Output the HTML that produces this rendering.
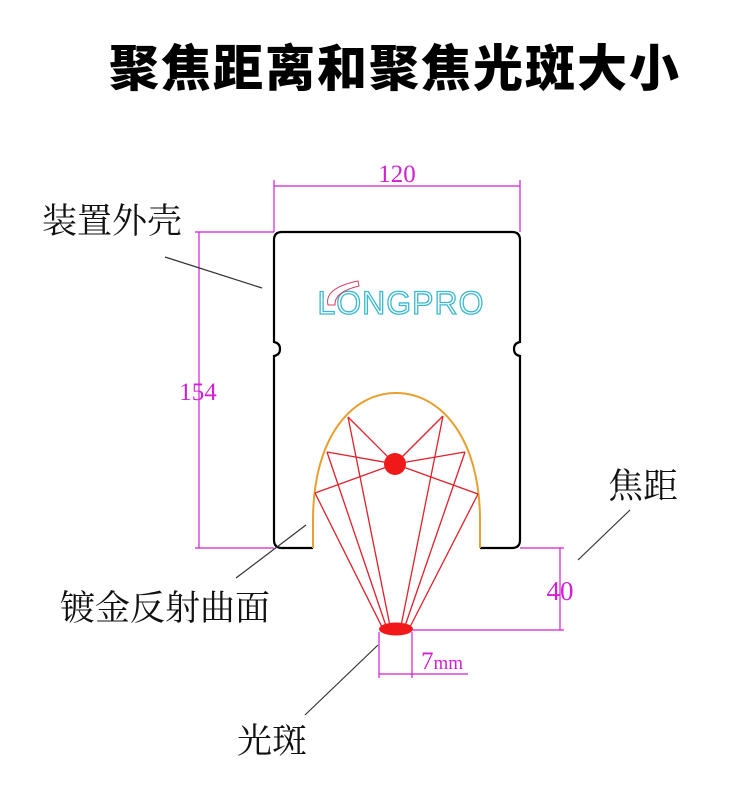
<!DOCTYPE html>
<html><head><meta charset="utf-8"><style>
body{margin:0;background:#fff;width:750px;height:807px;overflow:hidden}
svg{display:block}
.lab{font-family:"Liberation Serif","Noto Serif CJK SC",serif;font-size:35px;fill:#111}
.dim{font-family:"Liberation Serif",serif;fill:#d21fd2}
</style></head><body>
<svg width="750" height="807" viewBox="0 0 750 807">
<text x="395" y="86" text-anchor="middle" font-family="'Liberation Sans','Noto Sans CJK SC',sans-serif" font-weight="900" font-size="50" letter-spacing="2" fill="#000">聚焦距离和聚焦光斑大小</text>
<!-- housing -->
<path d="M313 548 H282 Q274 548 274 540 V356 Q280 355 280 349 Q280 343 274 342 V240 Q274 232 282 232 H512 Q520 232 520 240 V342 Q514 343 514 349 Q514 355 520 356 V540 Q520 548 512 548 H480" fill="none" stroke="#000" stroke-width="2.2"/>
<!-- reflector -->
<path d="M313 548 L313 520 C313 440 350 393 396 393 C442 393 480 440 480 520 L480 548" fill="none" stroke="#e8a030" stroke-width="2"/>
<g stroke="#e0202a" stroke-width="1.3">
<line x1="348" y1="417" x2="395" y2="464"/><line x1="327" y1="452" x2="395" y2="464"/><line x1="315" y1="493" x2="395" y2="464"/>
<line x1="443" y1="416" x2="395" y2="464"/><line x1="465" y1="452" x2="395" y2="464"/><line x1="478" y1="494" x2="395" y2="464"/>
<line x1="348" y1="417" x2="390" y2="626"/><line x1="327" y1="452" x2="386" y2="626"/><line x1="315" y1="493" x2="382" y2="627"/>
<line x1="443" y1="416" x2="401" y2="626"/><line x1="465" y1="452" x2="405" y2="626"/><line x1="478" y1="494" x2="410" y2="627"/>
</g>
<circle cx="395" cy="464" r="11" fill="#f01818"/>
<ellipse cx="396" cy="629" rx="17" ry="6.5" fill="#f01818"/>
<!-- logo -->
<text x="401" y="314" text-anchor="middle" font-family="'Liberation Sans',sans-serif" font-size="32" fill="none" stroke="#3ab8d0" stroke-width="1.3" letter-spacing="1">LONGPRO</text>
<path d="M328 305 Q324 288 358 281 L359 286 Q334 292 335 305 Z" fill="none" stroke="#d04060" stroke-width="1"/>
<!-- dims -->
<g stroke="#d21fd2" stroke-width="1.2" fill="none">
<line x1="274" y1="180" x2="274" y2="232"/><line x1="520" y1="180" x2="520" y2="232"/><line x1="274" y1="186" x2="520" y2="186"/>
<line x1="195" y1="232" x2="274" y2="232"/><line x1="195" y1="548" x2="274" y2="548"/><line x1="199" y1="232" x2="199" y2="548"/>
<line x1="520" y1="548" x2="564" y2="548"/><line x1="412" y1="630" x2="564" y2="630"/><line x1="560" y1="548" x2="560" y2="630"/>
<line x1="379" y1="632" x2="379" y2="678"/><line x1="412" y1="632" x2="412" y2="678"/><line x1="379" y1="674" x2="468" y2="674"/>
</g>
<text class="dim" x="397" y="182" text-anchor="middle" font-size="25">120</text>
<text class="dim" x="198" y="400" text-anchor="middle" font-size="25">154</text>
<text class="dim" x="560" y="600" text-anchor="middle" font-size="27">40</text>
<text class="dim" x="421" y="669" font-size="25">7<tspan font-size="19">mm</tspan></text>
<!-- leaders -->
<g stroke="#333" stroke-width="1.2">
<line x1="165" y1="257" x2="262" y2="288"/><line x1="306" y1="525" x2="236" y2="578"/>
<line x1="630" y1="510" x2="578" y2="560"/><line x1="378" y1="645" x2="305" y2="715"/>
</g>
<text class="lab" x="42" y="233">装置外壳</text>
<text class="lab" x="60" y="620">镀金反射曲面</text>
<text class="lab" x="608" y="498">焦距</text>
<text class="lab" x="237" y="753">光斑</text>
</svg>
</body></html>
